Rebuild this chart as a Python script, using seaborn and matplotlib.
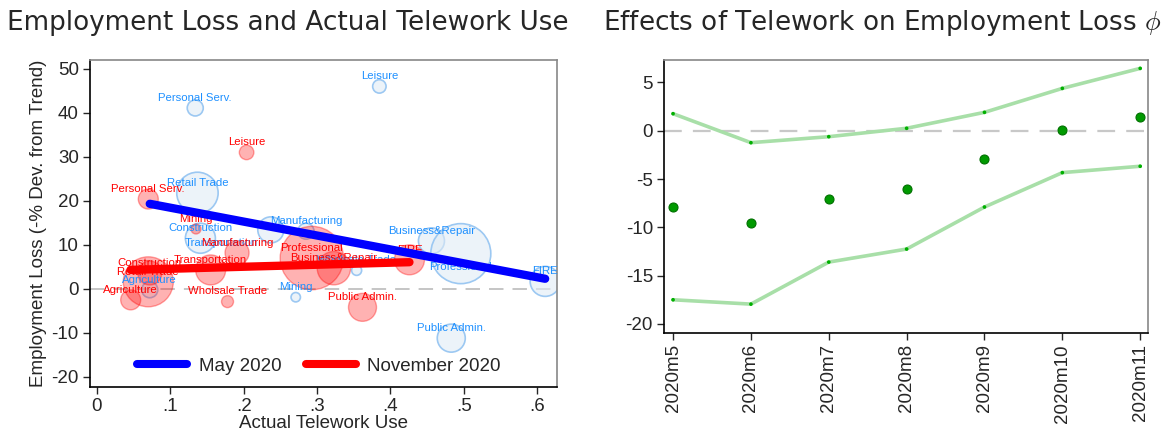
import numpy as np
import pandas as pd
import matplotlib
matplotlib.use("Agg")
import matplotlib.pyplot as plt
from matplotlib.lines import Line2D
import seaborn as sns

# ------------------------------------------------------------
# Left panel data: industries, telework use vs employment loss
# ------------------------------------------------------------
industries = ["Agriculture", "Mining", "Construction", "Manufacturing",
              "Wholsale Trade", "Retail Trade", "Transportation", "FIRE",
              "Business&Repair", "Personal Serv.", "Leisure", "Professional",
              "Public Admin."]

telework_may = [0.072, 0.271, 0.141, 0.285, 0.354, 0.137, 0.237, 0.611,
                0.456, 0.134, 0.385, 0.496, 0.483]
loss_may = [-0.2, -1.9, 11.5, 13.1, 4.2, 21.8, 13.4, 1.7,
            10.9, 41.1, 46.0, 8.0, -11.2]
weight_may = [64, 22, 225, 64, 25, 428, 169, 225, 169, 64, 45, 900, 196]

telework_nov = [0.046, 0.135, 0.072, 0.191, 0.178, 0.070, 0.155, 0.426,
                0.323, 0.070, 0.204, 0.293, 0.362]
loss_nov = [-2.5, 13.6, 3.6, 8.2, -2.9, 1.6, 4.3, 6.6,
            4.7, 20.4, 31.0, 7.0, -4.2]
weight_nov = [100, 25, 144, 144, 36, 625, 225, 225, 279, 100, 53, 1005, 196]

# fitted lines (intercept, slope)
fit_may = (21.6, -31.6)
fit_nov = (4.1, 4.6)

# ------------------------------------------------------------
# Right panel data: telework effect by month with bands
# ------------------------------------------------------------
months = ["2020m5", "2020m6", "2020m7", "2020m8", "2020m9", "2020m10", "2020m11"]
phi = [-7.86, -9.58, -7.1, -6.0, -2.95, 0.05, 1.38]
phi_upper = [1.76, -1.24, -0.62, 0.25, 1.9, 4.38, 6.45]
phi_lower = [-17.5, -17.95, -13.6, -12.25, -7.9, -4.34, -3.68]

may = pd.DataFrame({"industry": industries, "x": telework_may,
                    "y": loss_may, "w": weight_may})
nov = pd.DataFrame({"industry": industries, "x": telework_nov,
                    "y": loss_nov, "w": weight_nov})
eff = pd.DataFrame({"pos": np.arange(len(months)), "phi": phi,
                    "upper": phi_upper, "lower": phi_lower})

sns.set_style("white")
plt.rcParams["font.family"] = ["Liberation Sans", "DejaVu Sans"]
plt.rcParams["mathtext.fontset"] = "cm"
plt.rcParams["axes.unicode_minus"] = False

fig = plt.figure(figsize=(11.67, 4.36), dpi=100)
ax1 = fig.add_axes([0.0771, 0.1124, 0.4001, 0.75])
ax2 = fig.add_axes([0.569, 0.236, 0.4147, 0.626])

PX = 0.72  # points per pixel at 100 dpi
BLUE_TXT = "#1e90ff"

# ---------------- left panel ----------------
ax1.axhline(0, color="#c0c0c0", lw=1.3, dashes=(8, 5), zorder=0)

sns.scatterplot(data=may, x="x", y="y", s=may["w"] * (2 * PX) ** 2,
                color=(0.88, 0.92, 0.96, 0.6), edgecolor="#9cc8f2",
                linewidth=1.2, ax=ax1, zorder=2, legend=False)
sns.scatterplot(data=nov, x="x", y="y", s=nov["w"] * (2 * PX) ** 2,
                color=(1, 0, 0, 0.3), edgecolor=(1, 0, 0, 0.35),
                linewidth=1.0, ax=ax1, zorder=3, legend=False)

# label nudges (in points) where the label is not above the marker
blue_offsets = {"Professional": (0, -9.5, "center"),
                "Transportation": (-9, -9.5, "right")}
for _, r in may.iterrows():
    dx, dy, ha = blue_offsets.get(r["industry"], (0, 7.3, "center"))
    ax1.annotate(r["industry"], (r["x"], r["y"]), xytext=(dx, dy),
                 textcoords="offset points", ha=ha, va="center",
                 fontsize=8.2, color=BLUE_TXT, zorder=4)
for _, r in nov.iterrows():
    ax1.annotate(r["industry"], (r["x"], r["y"]), xytext=(0, 7.3),
                 textcoords="offset points", ha="center", va="center",
                 fontsize=8.2, color="red", zorder=5)

for df, fit, col in [(may, fit_may, "blue"), (nov, fit_nov, "red")]:
    xs = np.array([df["x"].min(), df["x"].max()])
    sns.lineplot(x=xs, y=fit[0] + fit[1] * xs, color=col, lw=6,
                 solid_capstyle="round", ax=ax1, zorder=6)

ax1.set_xlim(-0.0095, 0.627)
ax1.set_ylim(-22.3, 52.0)
ax1.set_xticks([0, 0.1, 0.2, 0.3, 0.4, 0.5, 0.6])
ax1.set_xticklabels(["0", ".1", ".2", ".3", ".4", ".5", ".6"])
ax1.set_yticks(range(-20, 51, 10))
ax1.set_xlabel("Actual Telework Use", fontsize=13.5, labelpad=0)
ax1.set_ylabel("Employment Loss (-% Dev. from Trend)", fontsize=13.5, labelpad=3)

handles = [Line2D([], [], color="blue", lw=5.8),
           Line2D([], [], color="red", lw=5.8)]
ax1.legend(handles, ["May 2020", "November 2020"], ncol=2, frameon=False,
           loc="center", bbox_to_anchor=(0.49, 0.063), fontsize=13.5,
           handlelength=2.7, columnspacing=1.3, handletextpad=0.6)

# ---------------- right panel ----------------
ax2.axhline(0, color="#c8c8c8", lw=1.6, dashes=(8, 5), zorder=0)
for col in ["upper", "lower"]:
    sns.lineplot(data=eff, x="pos", y=col, color="#a8dfa8", lw=2.6,
                 ax=ax2, zorder=2)
    sns.scatterplot(data=eff, x="pos", y=col, color="#00b000", s=7,
                    edgecolor="none", ax=ax2, zorder=3)
sns.scatterplot(data=eff, x="pos", y="phi", color="#009a00", s=42,
                edgecolor="#007000", linewidth=0.8, ax=ax2, zorder=4)

ax2.set_xlim(-0.116, 6.1)
ax2.set_ylim(-20.95, 7.3)
ax2.set_xticks(eff["pos"])
ax2.set_xticklabels(months, rotation=90)
ax2.set_yticks([-20, -15, -10, -5, 0, 5])
ax2.set_xlabel("")
ax2.set_ylabel("")

for ax in (ax1, ax2):
    ax.tick_params(axis="both", labelsize=13.5, length=5, width=1,
                   direction="out", bottom=True, left=True, pad=3)
    for side in ["left", "bottom"]:
        ax.spines[side].set_color("black")
        ax.spines[side].set_linewidth(1.2)
    for side in ["top", "right"]:
        ax.spines[side].set_color("#888888")
        ax.spines[side].set_linewidth(1.2)
    ax.grid(False)

fig.text(0.247, 0.948, "Employment Loss and Actual Telework Use",
         ha="center", va="center", fontsize=18.9, family="DejaVu Sans")
fig.text(0.756, 0.948, r"Effects of Telework on Employment Loss $\phi$",
         ha="center", va="center", fontsize=18.9, family="DejaVu Sans")

fig.savefig("out.png", dpi=100)
